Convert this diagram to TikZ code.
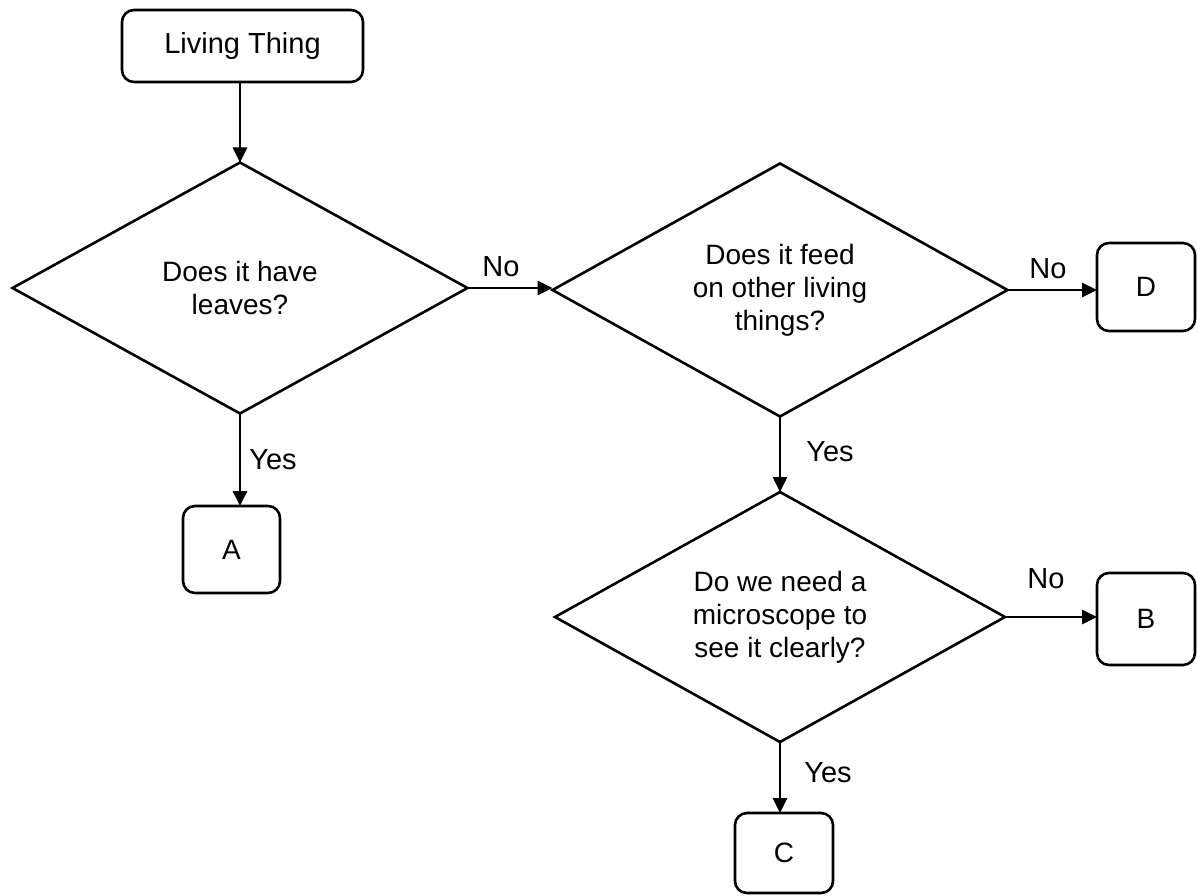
\documentclass[tikz,border=0pt]{standalone}
\usepackage{fontspec}
\setmainfont{Liberation Sans}
\usetikzlibrary{shapes.geometric,arrows.meta}
\begin{document}
\begin{tikzpicture}[x=1pt,y=-1pt,
  every node/.style={font=\fontsize{28}{33}\selectfont},
  box/.style={draw, line width=2.6pt, rounded corners=12pt, inner sep=0pt, outer sep=0pt},
  decision/.style={draw, diamond, shape aspect=2, line width=2.6pt, minimum width=455pt, minimum height=251pt, inner sep=0pt, outer sep=0pt, align=center},
  lbl/.style={inner sep=0pt, font=\fontsize{29}{33}\selectfont},
  flow/.style={line width=2.6pt, -{Triangle[length=15pt,width=14pt]}}
]
\useasboundingbox (0,0) rectangle (1197,896);
\node[box, minimum width=241pt, minimum height=72pt, font=\fontsize{29}{33}\selectfont] (lt) at (242.5,46) {Living Thing};
\node[decision] (d1) at (240,288) {Does it have\\leaves?};
\node[decision, minimum height=253pt] (d2) at (780,290) {Does it feed\\on other living\\things?};
\node[decision, minimum width=450pt, minimum height=250pt] (d3) at (780,617) {Do we need a\\microscope to\\see it clearly?};
\node[box, minimum width=97pt, minimum height=87pt] (A) at (231.5,549.5) {A};
\node[box, minimum width=98pt, minimum height=88pt] (D) at (1146,287) {D};
\node[box, minimum width=98pt, minimum height=92pt] (B) at (1146,619) {B};
\node[box, minimum width=98pt, minimum height=80pt] (C) at (784,853) {C};
\coordinate (ltb) at (240,82);
\draw[flow] (ltb) -- (d1.north);
\draw[flow] (d1.east) -- (d1.east -| d2.west);
\draw[flow] (d2.east) -- (d2.east -| D.west);
\draw[flow] (d3.east) -- (d3.east -| B.west);
\draw[flow] (d1.south) -- (d1.south |- A.north);
\draw[flow] (d2.south) -- (d3.north);
\draw[flow] (d3.south) -- (d3.south |- C.north);
\node[lbl] (n1) at (501,267) {No};
\node[lbl] (n2) at (1048,269) {No};
\node[lbl] (n3) at (1046,579) {No};
\node[lbl] (y1) at (273,460) {Yes};
\node[lbl] (y2) at (830,452) {Yes};
\node[lbl] (y3) at (828,773) {Yes};
\end{tikzpicture}
\end{document}
